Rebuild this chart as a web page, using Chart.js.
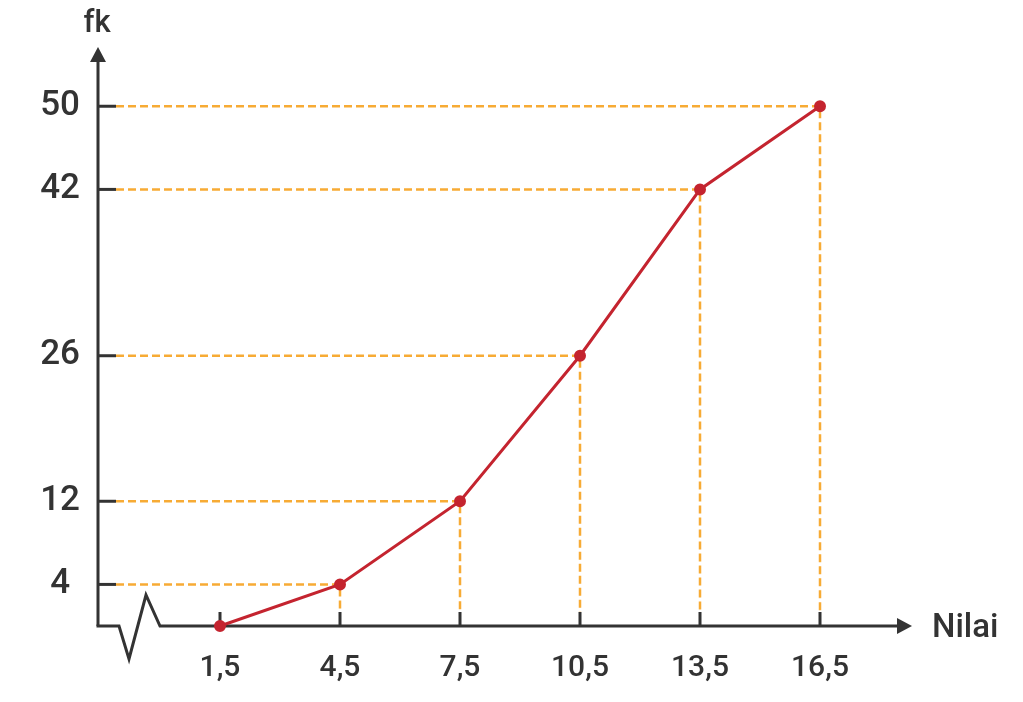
<!DOCTYPE html>
<html>
<head>
<meta charset="utf-8">
<script src="https://cdn.jsdelivr.net/npm/chart.js@4.4.1/dist/chart.umd.min.js"></script>
<style>
  html, body { margin: 0; padding: 0; background: #fff; }
  #wrap { width: 1023px; height: 702px; }
</style>
</head>
<body>
<div id="wrap"><canvas id="myChart" width="1023" height="702"></canvas></div>
<script>
// data
const nilai = [1.5, 4.5, 7.5, 10.5, 13.5, 16.5];
const fk = [0, 4, 12, 26, 42, 50];
const xTicks = [1.5, 4.5, 7.5, 10.5, 13.5, 16.5];
const yTicks = [4, 12, 26, 42, 50];

const dark = "#333333";
const orange = "#f7ab35";
const red = "#c4242f";
const fontFam = "Roboto, 'Noto Sans', sans-serif";

function fmt(v) {
  return String(v).replace(".", ",");
}

// axes, arrows, break, ticks and the dashed guides
const ogivePlugin = {
  id: "ogive",
  beforeDatasetsDraw(chart) {
    const { ctx, chartArea: a, scales } = chart;
    const x = scales.x, y = scales.y;
    const x0 = a.left, y0 = a.bottom;

    ctx.save();
    // dashed guides
    ctx.strokeStyle = orange;
    ctx.lineWidth = 2.5;
    ctx.setLineDash([8, 4]);
    nilai.forEach((v, i) => {
      if (fk[i] === 0) return;
      const px = x.getPixelForValue(v);
      const py = y.getPixelForValue(fk[i]);
      ctx.beginPath();
      ctx.moveTo(x0 + 18, py);
      ctx.lineTo(px, py);
      ctx.lineTo(px, y0 - 14);
      ctx.stroke();
    });
    ctx.setLineDash([]);

    // ticks
    ctx.strokeStyle = dark;
    ctx.lineWidth = 3;
    yTicks.forEach((v) => {
      const py = y.getPixelForValue(v);
      ctx.beginPath();
      ctx.moveTo(x0, py);
      ctx.lineTo(x0 + 18, py);
      ctx.stroke();
    });
    xTicks.forEach((v) => {
      const px = x.getPixelForValue(v);
      ctx.beginPath();
      ctx.moveTo(px, y0);
      ctx.lineTo(px, y0 - 14);
      ctx.stroke();
    });

    // y axis
    ctx.beginPath();
    ctx.moveTo(x0, y0);
    ctx.lineTo(x0, a.top + 12);
    ctx.stroke();
    ctx.fillStyle = dark;
    ctx.beginPath();
    ctx.moveTo(x0, a.top);
    ctx.lineTo(x0 + 8, a.top + 15);
    ctx.lineTo(x0 - 8, a.top + 15);
    ctx.closePath();
    ctx.fill();

    // x axis with break
    ctx.lineJoin = "miter";
    ctx.beginPath();
    ctx.moveTo(x0 - 1.5, y0);
    ctx.lineTo(x0 + 21, y0);
    ctx.lineTo(x0 + 31, y0 + 33);
    ctx.lineTo(x0 + 48, y0 - 31);
    ctx.lineTo(x0 + 62, y0);
    ctx.lineTo(a.right - 12, y0);
    ctx.stroke();
    ctx.beginPath();
    ctx.moveTo(a.right, y0);
    ctx.lineTo(a.right - 15, y0 - 8);
    ctx.lineTo(a.right - 15, y0 + 8);
    ctx.closePath();
    ctx.fill();

    // axis titles
    ctx.font = "500 31px " + fontFam;
    ctx.textAlign = "center";
    ctx.textBaseline = "middle";
    ctx.fillText("fk", x0 - 1, 24);
    ctx.font = "500 33px " + fontFam;
    ctx.textAlign = "left";
    ctx.fillText("Nilai", a.right + 20, y0 + 3);
    ctx.restore();
  },
};

const ctx = document.getElementById("myChart").getContext("2d");
new Chart(ctx, {
  type: "line",
  data: {
    datasets: [
      {
        data: nilai.map((v, i) => ({ x: v, y: fk[i] })),
        borderColor: red,
        backgroundColor: red,
        borderWidth: 3,
        pointRadius: 4.5,
        pointHoverRadius: 4.5,
        tension: 0,
        clip: false,
      },
    ],
  },
  options: {
    responsive: false,
    animation: false,
    events: [],
    layout: { padding: { top: 47, right: 111, bottom: 0, left: 0 } },
    plugins: { legend: { display: false }, tooltip: { enabled: false } },
    scales: {
      x: {
        type: "linear",
        min: -1.55,
        max: 18.8,
        afterFit(scale) { scale.height = 76; },
        afterBuildTicks(scale) { scale.ticks = xTicks.map((v) => ({ value: v })); },
        grid: { display: false, drawTicks: false },
        border: { display: false },
        ticks: {
          padding: 24,
          color: dark,
          font: { family: fontFam, size: 30, weight: 500 },
          callback: (v) => fmt(v),
        },
      },
      y: {
        type: "linear",
        min: 0,
        max: 55.7,
        afterFit(scale) { scale.width = 98; },
        afterBuildTicks(scale) { scale.ticks = yTicks.map((v) => ({ value: v })); },
        grid: { display: false, drawTicks: false },
        border: { display: false },
        ticks: {
          padding: 18,
          crossAlign: "center",
          color: dark,
          font: { family: fontFam, size: 35, weight: 500 },
          callback: (v) => fmt(v),
        },
      },
    },
  },
  plugins: [ogivePlugin],
});
</script>
</body>
</html>
